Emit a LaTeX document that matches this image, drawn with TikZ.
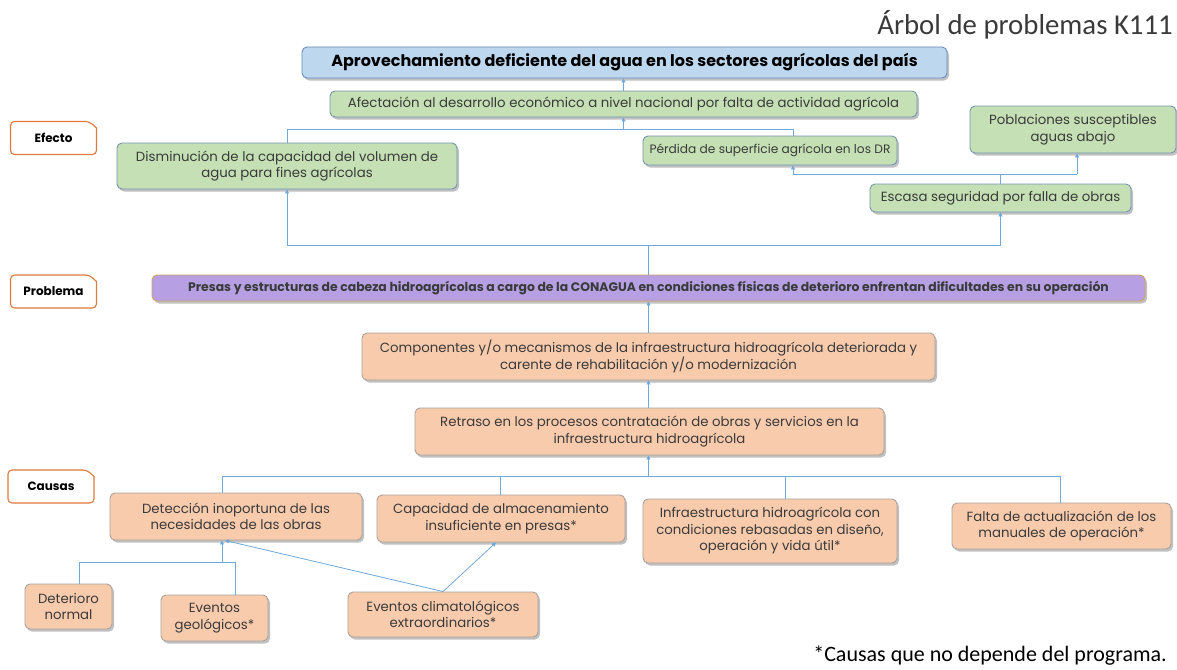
\documentclass[tikz,border=0pt]{standalone}
\usepackage{fontspec}
\setmainfont{Poppins}
\newfontfamily\calib{Carlito}
\usetikzlibrary{arrows.meta,shadows,calc}
\definecolor{bluefill}{HTML}{BDD7EE}
\definecolor{blueline}{HTML}{6A8CC0}
\definecolor{greenfill}{HTML}{C5E0B4}
\definecolor{greenline}{HTML}{7393B0}
\definecolor{purpfill}{HTML}{B6A0E3}
\definecolor{purpline}{HTML}{D3A15A}
\definecolor{orfill}{HTML}{F8CBAD}
\definecolor{orline}{HTML}{A8A29A}
\definecolor{labline}{HTML}{E0793A}
\definecolor{cline}{HTML}{6FA8DC}
\definecolor{txt}{HTML}{3A3A3A}
\begin{document}
\begin{tikzpicture}[x=1pt,y=-1pt,
  box/.style={rounded corners=5pt, line width=0.9pt, align=center, inner sep=2pt, text=txt,
    drop shadow={shadow xshift=2pt,shadow yshift=-2.5pt,opacity=0.35,fill=black!70},
    font=\fontsize{13.3}{16.5}\selectfont},
  gbox/.style={box, fill=greenfill, draw=greenline},
  obox/.style={box, fill=orfill, draw=orline},
  lab/.style={inner sep=0pt, font=\bfseries\fontsize{12}{14}\selectfont, text=black},
  labline/.style={draw=labline, line width=1.1pt, fill=white, rounded corners=4pt},
  conn/.style={draw=cline, line width=0.8pt},
  arr/.style={conn, -{Triangle[length=4pt,width=4pt]}}]
\useasboundingbox (0,0) rectangle (1177,669);

% title and footnote
\node[anchor=east, inner sep=0pt, font=\calib\fontsize{28.8}{32}\selectfont, text=txt] (title) at (1173,25) {Árbol de problemas K111};
\node[anchor=east, inner sep=0pt, font=\calib\fontsize{22}{24}\selectfont, text=black] (foot) at (1167,656) {*Causas que no depende del programa.};

% labels
\foreach \n/\cx/\cy/\t in {efe/53.5/138/Efecto, pro/53.5/291.5/Problema, cau/51/486.5/Causas}{
  \coordinate (\n nw) at (\cx-43,\cy-16.5);
  \coordinate (\n se) at (\cx+43,\cy+16.5);
  \draw[labline] (\n nw) -- (\cx+36,\cy-16.5) [sharp corners] -- (\cx+43,\cy-10) [rounded corners=4pt] -- (\n se) -- (\cx-43,\cy+16.5) -- cycle;
  \node[lab] (\n) at (\cx,\cy) {\t};
}

% effects
\node[box, fill=bluefill, draw=blueline, minimum width=645, minimum height=31, font=\bfseries\fontsize{16}{18}\selectfont, text=black] (main) at (624.5,62.5) {Aprovechamiento deficiente del agua en los sectores agrícolas del país};
\node[gbox, minimum width=587, minimum height=26] (afect) at (623.5,104) {Afectación al desarrollo económico a nivel nacional por falta de actividad agrícola};
\node[gbox, minimum width=340, minimum height=46] (dismin) at (287,166) {Disminución de la capacidad del volumen de\\agua para fines agrícolas};
\node[gbox, minimum width=254, minimum height=29, font=\fontsize{12.2}{15}\selectfont] (perd) at (770,150.5) {Pérdida de superficie agrícola en los DR};
\node[gbox, minimum width=206, minimum height=47] (pobl) at (1073,129.5) {Poblaciones susceptibles\\aguas abajo};
\node[gbox, minimum width=261, minimum height=28] (esc) at (1000.5,198) {Escasa seguridad por falla de obras};

% problem
\node[box, fill=purpfill, draw=purpline, minimum width=993, minimum height=26, font=\bfseries\fontsize{12.4}{14}\selectfont] (prob) at (648.5,288) {Presas y estructuras de cabeza hidroagrícolas a cargo de la CONAGUA en condiciones físicas de deterioro enfrentan dificultades en su operación};

% causes
\node[obox, minimum width=573, minimum height=47] (comp) at (648.5,356.5) {Componentes y/o mecanismos de la infraestructura hidroagrícola deteriorada y\\carente de rehabilitación y/o modernización};
\node[obox, minimum width=469, minimum height=47] (retr) at (649.5,431.5) {Retraso en los procesos contratación de obras y servicios en la\\infraestructura hidroagrícola};
\node[obox, minimum width=252, minimum height=47] (detec) at (236,516.5) {Detección inoportuna de las\\necesidades de las obras};
\node[obox, minimum width=248, minimum height=47] (capac) at (501,518.5) {Capacidad de almacenamiento\\insuficiente en presas*};
\node[obox, minimum width=254, minimum height=64] (infra) at (770,531) {Infraestructura hidroagrícola con\\condiciones rebasadas en diseño,\\operación y vida útil*};
\node[obox, minimum width=219, minimum height=46] (falta) at (1061.5,526) {Falta de actualización de los\\manuales de operación*};
\node[obox, minimum width=87, minimum height=45] (deter) at (68.5,606.5) {Deterioro\\normal};
\node[obox, minimum width=107, minimum height=46] (geol) at (214.5,618) {Eventos\\geológicos*};
\node[obox, minimum width=190, minimum height=45] (clima) at (443,614.5) {Eventos climatológicos\\extraordinarios*};

% junction coordinates
\coordinate (jA) at (0,129);
\coordinate (jB) at (0,174);
\coordinate (jP) at (0,245);
\coordinate (jC) at (0,476);
\coordinate (jD) at (0,562);

% connectors: effects
\draw[arr] (afect.north) -- (afect.north |- main.south);
\draw[conn] (dismin.north) -- (dismin.north |- jA) -- ($(perd.north |- jA)+(23,0)$) -- ($(perd.north)+(23,0)$);
\draw[arr] (afect.south |- jA) -- (afect.south);
\draw[conn] (esc.north) -- (esc.north |- jB);
\draw[conn] ($(perd.south |- jB)+(23,0)$) -- ($(pobl.south |- jB)+(4,0)$);
\draw[arr] ($(perd.south |- jB)+(23,0)$) -- ($(perd.south)+(23,0)$);
\draw[arr] ($(pobl.south |- jB)+(4,0)$) -- ($(pobl.south)+(4,0)$);

% problem to effects
\draw[conn] (prob.north) -- (prob.north |- jP);
\draw[conn] (dismin.south |- jP) -- (esc.south |- jP);
\draw[arr] (dismin.south |- jP) -- (dismin.south);
\draw[arr] (esc.south |- jP) -- (esc.south);

% causes chain
\draw[arr] (comp.north) -- (prob.south);
\draw[arr] (comp.south |- retr.north) -- (comp.south);
\draw[arr] (comp.south |- jC) -- (comp.south |- retr.south);
\draw[conn] ($(detec.north |- jC)+(-14,0)$) -- ($(falta.north |- jC)+(-1,0)$);
\draw[conn] ($(detec.north |- jC)+(-14,0)$) -- ($(detec.north)+(-14,0)$);
\draw[conn] ($(capac.north |- jC)+(-1,0)$) -- ($(capac.north)+(-1,0)$);
\draw[conn] ($(infra.north |- jC)+(15,0)$) -- ($(infra.north)+(15,0)$);
\draw[conn] ($(falta.north |- jC)+(-1,0)$) -- ($(falta.north)+(-1,0)$);

% sub causes
\draw[conn] ($(deter.north)+(10.5,0)$) -- ($(deter.north |- jD)+(10.5,0)$) -- ($(geol.north |- jD)+(20.5,0)$) -- ($(geol.north)+(20.5,0)$);
\draw[arr] ($(detec.south |- jD)+(-14,0)$) -- ($(detec.south)+(-14,0)$);
\draw[arr] (clima.north) -- ($(detec.south)+(-11,0)$);
\draw[arr] (clima.north) -- ($(capac.south)+(-5,0)$);
\end{tikzpicture}
\end{document}
